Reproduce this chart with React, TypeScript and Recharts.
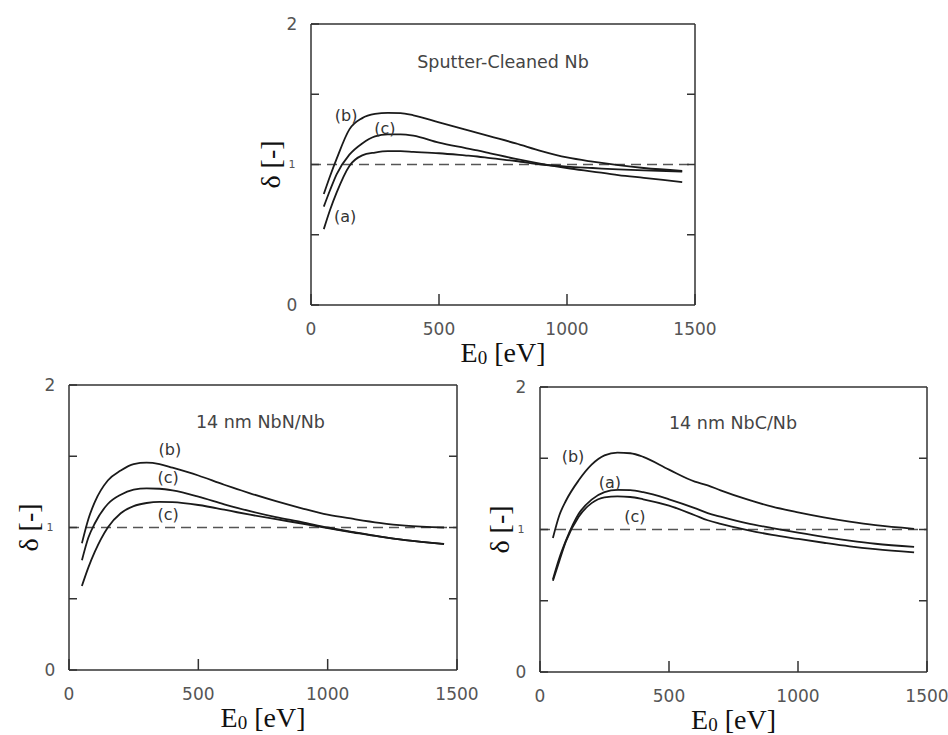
import { LineChart, Line, XAxis, YAxis, ReferenceLine, ReferenceDot } from "recharts";

const ENERGY = [50, 75, 100, 150, 200, 250, 300, 350, 400, 500, 600, 650, 700, 800, 900, 1000, 1100, 1200, 1300, 1450];

// Sputter-cleaned Nb
const NB_A = [0.54, 0.68, 0.8, 0.99, 1.065, 1.085, 1.095, 1.095, 1.09, 1.08, 1.065, 1.057, 1.045, 1.025, 1.0, 0.985, 0.975, 0.965, 0.958, 0.95];
const NB_B = [0.79, 0.92, 1.04, 1.25, 1.33, 1.36, 1.368, 1.366, 1.35, 1.3, 1.25, 1.225, 1.2, 1.15, 1.095, 1.05, 1.02, 0.995, 0.975, 0.955];
const NB_C = [0.7, 0.82, 0.93, 1.07, 1.15, 1.2, 1.215, 1.215, 1.205, 1.155, 1.118, 1.1, 1.08, 1.04, 1.005, 0.975, 0.95, 0.925, 0.905, 0.875];

// 14 nm NbN/Nb
const NBN_LOW = [0.59, 0.72, 0.83, 1.0, 1.1, 1.15, 1.172, 1.18, 1.178, 1.158, 1.125, 1.107, 1.09, 1.058, 1.028, 0.995, 0.965, 0.936, 0.911, 0.884];
const NBN_B = [0.89, 1.06, 1.18, 1.33, 1.4, 1.445, 1.455, 1.445, 1.42, 1.365, 1.3, 1.27, 1.24, 1.185, 1.135, 1.09, 1.06, 1.033, 1.013, 1.0];
const NBN_C = [0.77, 0.93, 1.03, 1.165, 1.23, 1.265, 1.275, 1.272, 1.26, 1.217, 1.163, 1.138, 1.115, 1.073, 1.038, 1.0, 0.968, 0.938, 0.912, 0.885];

// 14 nm NbC/Nb
const NBC_A = [0.65, 0.8, 0.92, 1.11, 1.21, 1.262, 1.278, 1.276, 1.262, 1.212, 1.15, 1.115, 1.09, 1.045, 1.01, 0.978, 0.948, 0.922, 0.9, 0.878];
const NBC_B = [0.94, 1.1, 1.2, 1.345, 1.455, 1.52, 1.54, 1.535, 1.51, 1.42, 1.336, 1.31, 1.275, 1.213, 1.16, 1.12, 1.085, 1.055, 1.03, 1.005];
const NBC_C = [0.64, 0.78, 0.915, 1.09, 1.185, 1.226, 1.232, 1.228, 1.212, 1.167, 1.1, 1.065, 1.04, 0.998, 0.962, 0.934, 0.907, 0.882, 0.862, 0.84];

const X_TICKS = [0, 500, 1000, 1500];
const Y_TICKS = [0, 0.5, 1, 1.5, 2];

interface CurveLabel {
  text: string;
  x: number;
  y: number;
}

interface PanelConfig {
  title: string;
  titleAt: [number, number];
  frame: { left: number; top: number; right: number; bottom: number };
  series: number[][];
  labels: CurveLabel[];
}

const PANELS: PanelConfig[] = [
  {
    title: "Sputter-Cleaned Nb",
    titleAt: [750, 1.73],
    frame: { left: 311, top: 24, right: 695, bottom: 305 },
    series: [NB_A, NB_B, NB_C],
    labels: [
      { text: "(b)", x: 137, y: 1.35 },
      { text: "(c)", x: 289, y: 1.26 },
      { text: "(a)", x: 133, y: 0.63 },
    ],
  },
  {
    title: "14 nm  NbN/Nb",
    titleAt: [740, 1.74],
    frame: { left: 69, top: 385, right: 457, bottom: 670 },
    series: [NBN_LOW, NBN_B, NBN_C],
    labels: [
      { text: "(b)", x: 390, y: 1.55 },
      { text: "(c)", x: 383, y: 1.355 },
      { text: "(c)", x: 383, y: 1.09 },
    ],
  },
  {
    title: "14 nm  NbC/Nb",
    titleAt: [748, 1.75],
    frame: { left: 540, top: 387, right: 927, bottom: 672 },
    series: [NBC_A, NBC_B, NBC_C],
    labels: [
      { text: "(b)", x: 128, y: 1.516 },
      { text: "(a)", x: 271, y: 1.33 },
      { text: "(c)", x: 368, y: 1.09 },
    ],
  },
];

const AXIS = "#333";
const TICK_TXT = "#555";
const SANS = "DejaVu Sans, sans-serif";
const SERIF = "Liberation Serif, Times New Roman, serif";

const Y_AXIS_W = 75;
const X_AXIS_H = 70;
const PAD_TOP = 10;
const PAD_RIGHT = 30;

function XTick({ x, y, payload }: any) {
  return (
    <text x={x} y={y} dy="0.35em" textAnchor="middle" fontFamily={SANS} fontSize={17} fill={TICK_TXT}>
      {payload.value}
    </text>
  );
}

function YTick({ x, y, payload }: any) {
  const v = payload.value;
  if (v % 1 !== 0) return null;
  return (
    <text x={x} y={y} dy="0.35em" textAnchor="middle" fontFamily={SANS} fontSize={v === 1 ? 11 : 17} fill={TICK_TXT}>
      {v}
    </text>
  );
}

// tick marks only, no text (top and right sides of the frame)
function NoTick() {
  return null;
}

function XTitle({ viewBox }: any) {
  return (
    <text x={viewBox.x + viewBox.width / 2} y={viewBox.y + 57} textAnchor="middle" fontFamily={SERIF} fontSize={28} fill="#111">
      E
      <tspan fontSize={19} dy={2}>0</tspan>
      <tspan dy={-2}> [eV]</tspan>
    </text>
  );
}

function YTitle({ viewBox }: any) {
  const cx = viewBox.x + viewBox.width - 41;
  const cy = viewBox.y + viewBox.height / 2;
  return (
    <text
      x={cx}
      y={cy}
      dy="0.35em"
      textAnchor="middle"
      fontFamily={SERIF}
      fontSize={28}
      fill="#111"
      transform={`rotate(-90 ${cx} ${cy})`}
    >
      δ [-]
    </text>
  );
}

function Panel({ cfg }: { cfg: PanelConfig }) {
  const { frame } = cfg;
  const width = frame.right - frame.left + Y_AXIS_W + PAD_RIGHT;
  const height = frame.bottom - frame.top + PAD_TOP + X_AXIS_H;
  const data = ENERGY.map((e, i) => ({
    e,
    s0: cfg.series[0][i],
    s1: cfg.series[1][i],
    s2: cfg.series[2][i],
  }));

  return (
    <div style={{ position: "absolute", left: frame.left - Y_AXIS_W, top: frame.top - PAD_TOP }}>
      <LineChart
        width={width}
        height={height}
        data={data}
        margin={{ top: PAD_TOP - 1, right: PAD_RIGHT - 1, left: 0, bottom: 0 }}
      >
        <XAxis
          dataKey="e"
          type="number"
          domain={[0, 1500]}
          allowDataOverflow
          ticks={X_TICKS}
          height={X_AXIS_H}
          tickSize={-11}
          tickMargin={35}
          tick={<XTick />}
          stroke={AXIS}
          strokeWidth={1.5}
          label={{ content: XTitle }}
        />
        <XAxis
          xAxisId="top"
          orientation="top"
          type="number"
          domain={[0, 1500]}
          allowDataOverflow
          ticks={[500, 1000]}
          height={1}
          tickSize={-11}
          tick={<NoTick />}
          stroke={AXIS}
          strokeWidth={1.5}
        />
        <YAxis
          type="number"
          domain={[0, 2]}
          allowDataOverflow
          ticks={Y_TICKS}
          width={Y_AXIS_W}
          tickSize={-8}
          tickMargin={27}
          tick={<YTick />}
          stroke={AXIS}
          strokeWidth={1.5}
          label={{ content: YTitle }}
        />
        <YAxis
          yAxisId="right"
          orientation="right"
          type="number"
          domain={[0, 2]}
          allowDataOverflow
          ticks={[0.5, 1, 1.5]}
          width={1}
          tickSize={-8}
          tick={<NoTick />}
          stroke={AXIS}
          strokeWidth={1.5}
        />
        <ReferenceLine y={1} stroke="#555" strokeWidth={1.3} strokeDasharray="10 6" />
        {["s0", "s1", "s2"].map((k) => (
          <Line
            key={k}
            dataKey={k}
            type="monotone"
            stroke="#1a1a1a"
            strokeWidth={1.8}
            dot={false}
            activeDot={false}
            isAnimationActive={false}
          />
        ))}
        {cfg.labels.map((l, i) => (
          <ReferenceDot
            key={i}
            x={l.x}
            y={l.y}
            r={0}
            fill="none"
            stroke="none"
            label={{ value: l.text, position: "center", fontFamily: SANS, fontSize: 16, fill: "#333" }}
          />
        ))}
        <ReferenceDot
          x={cfg.titleAt[0]}
          y={cfg.titleAt[1]}
          r={0}
          fill="none"
          stroke="none"
          label={{ value: cfg.title, position: "center", fontFamily: SANS, fontSize: 17.5, fill: "#444" }}
        />
      </LineChart>
    </div>
  );
}

export default function App() {
  return (
    <div
      style={{
        position: "absolute",
        left: 0,
        top: 0,
        width: 948,
        height: 735,
        overflow: "hidden",
        background: "#fff",
      }}
    >
      {PANELS.map((p) => (
        <Panel key={p.title} cfg={p} />
      ))}
    </div>
  );
}
